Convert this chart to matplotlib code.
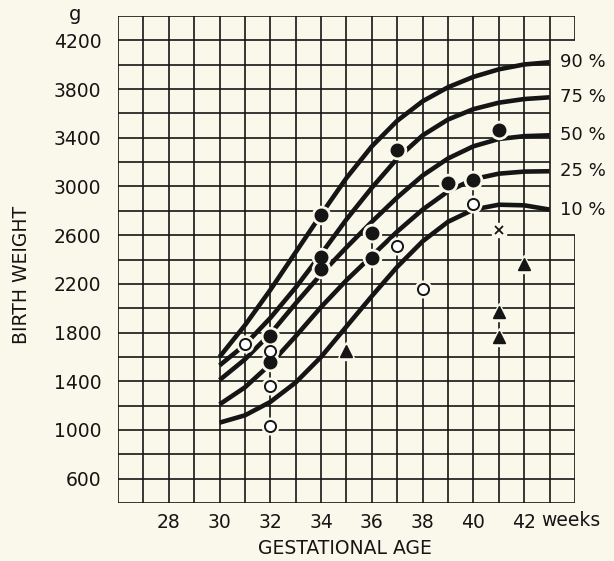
import matplotlib.pyplot as plt
import numpy as np

# percentile curves (grams at each week 30..43)
weeks = [30, 31, 32, 33, 34, 35, 36, 37, 38, 39, 40, 41, 42, 43]
p90 = [1600, 1860, 2150, 2460, 2770, 3070, 3330, 3540, 3700, 3815, 3900, 3962, 4002, 4020]
p75 = [1530, 1700, 1920, 2170, 2445, 2730, 2990, 3230, 3420, 3550, 3635, 3688, 3718, 3732]
p50 = [1410, 1580, 1790, 2040, 2280, 2500, 2710, 2910, 3090, 3230, 3330, 3390, 3413, 3420]
p25 = [1210, 1350, 1540, 1770, 2010, 2230, 2430, 2630, 2810, 2960, 3060, 3105, 3122, 3125]
p10 = [1060, 1120, 1230, 1390, 1600, 1850, 2100, 2340, 2550, 2710, 2810, 2850, 2845, 2810]
curve_labels = ["90 %", "75 %", "50 %", "25 %", "10 %"]

# individual infants
filled_wk = [32, 32, 34, 34, 34, 36, 36, 37, 39, 40, 41]
filled_g = [1770, 1560, 2765, 2420, 2325, 2620, 2410, 3300, 3025, 3055, 3465]
open_wk = [31, 32, 32, 32, 37, 38, 40]
open_g = [1710, 1645, 1365, 1035, 2510, 2155, 2855]
tri_wk = [35, 41, 41, 42]
tri_g = [1645, 1965, 1760, 2365]
cross_wk = [41]
cross_g = [2645]

xticks = [28, 30, 32, 34, 36, 38, 40, 42]
yticks = [600, 1000, 1400, 1800, 2200, 2600, 3000, 3400, 3800, 4200]

bg = "#faf8ea"
ink = "#151515"

fig = plt.figure(figsize=(6.14, 5.61), dpi=100, facecolor=bg)
ax = fig.add_axes([118 / 614, 58 / 561, 457 / 614, 487 / 561])
ax.set_facecolor(bg)
ax.set_xlim(26, 44)
ax.set_ylim(400, 4400)
for s in ax.spines.values():
    s.set_visible(False)

# grid, with the right column left open for the curve labels
for g in range(400, 4401, 200):
    right = 43 if 2600 < g < 4200 else 44
    ax.hlines(g, 26, right, color=ink, lw=1.2, zorder=1)
for w in range(26, 44):
    ax.vlines(w, 400, 4400, color=ink, lw=1.2, zorder=1)
ax.vlines(44, 400, 2600, color=ink, lw=1.2, zorder=1)
ax.vlines(44, 4200, 4400, color=ink, lw=1.2, zorder=1)

for vals, lab in zip([p90, p75, p50, p25, p10], curve_labels):
    ax.plot(weeks, vals, color=ink, lw=3.3, solid_capstyle="butt",
            solid_joinstyle="round", zorder=2)
    ax.text(43.4, vals[-1], lab, fontsize=13, color=ink, va="center", ha="left")

# halos break the grid and curves around each point
ax.plot(filled_wk, filled_g, "o", ms=13, color=bg, zorder=3)
ax.plot(open_wk, open_g, "o", ms=12, color=bg, zorder=3)
ax.plot(tri_wk, tri_g, "^", ms=13, color=bg, zorder=3)
ax.plot(cross_wk, cross_g, "s", ms=10, color=bg, zorder=3)

ax.plot(filled_wk, filled_g, "o", ms=9, color=ink, zorder=4)
ax.plot(open_wk, open_g, "o", ms=8, mfc="white", mec=ink, mew=1.4, zorder=4)
ax.plot(tri_wk, tri_g, "^", ms=8.5, color=ink, zorder=4)
ax.plot(cross_wk, cross_g, "x", ms=6, mew=1.3, color=ink, zorder=4)

ax.set_xticks(xticks)
ax.set_xticklabels([str(t) for t in xticks])
ax.set_yticks(yticks)
ax.set_yticklabels([str(t) for t in yticks])
ax.tick_params(length=0, labelsize=13.5, colors=ink)
ax.tick_params(axis="x", pad=7)
ax.tick_params(axis="y", pad=12)

fig.text(541 / 614, 1 - 521 / 561, "weeks", fontsize=13.5, color=ink,
         ha="left", va="center")
fig.text(75 / 614, 1 - 14 / 561, "g", fontsize=14, color=ink, ha="center", va="center")
fig.text(345 / 614, 1 - 548 / 561, "GESTATIONAL AGE", fontsize=13.5, color=ink,
         ha="center", va="center")
fig.text(22 / 614, 1 - 275 / 561, "BIRTH WEIGHT", fontsize=13.5, color=ink,
         ha="center", va="center", rotation=90)

fig.savefig("out.png", dpi=100, facecolor=bg)
